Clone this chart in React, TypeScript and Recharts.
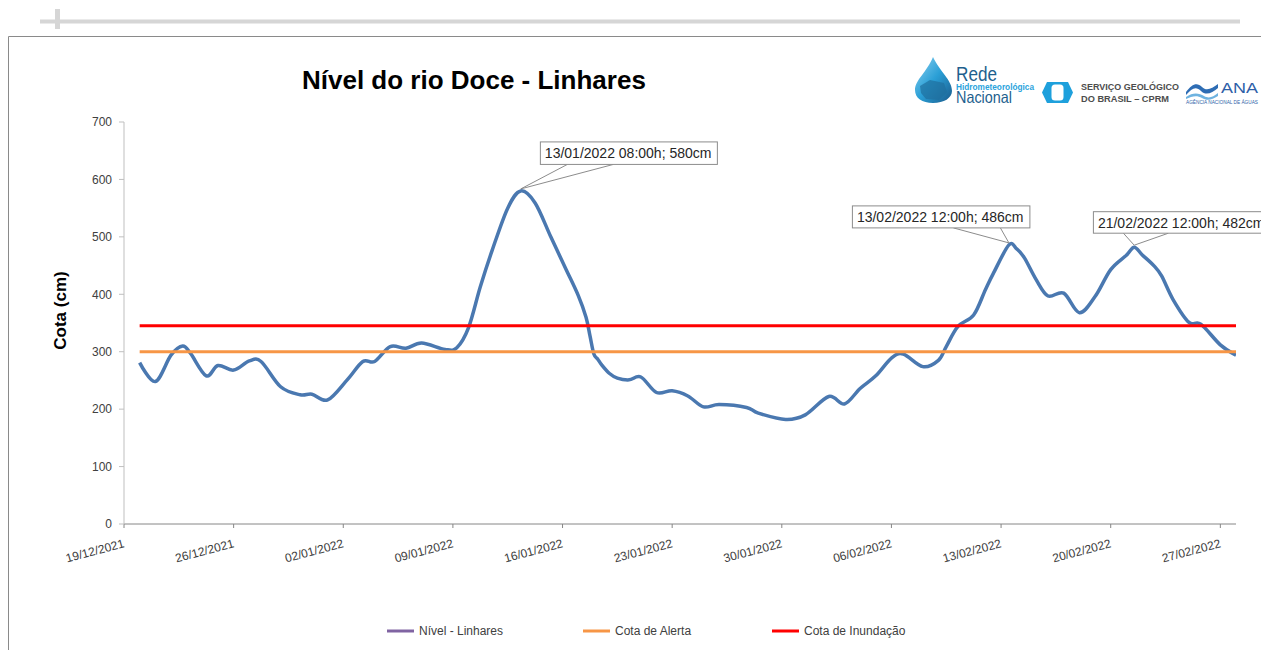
import React from 'react';
import { LineChart, Line, XAxis, YAxis, ReferenceDot } from 'recharts';

// ---------- DATA ----------
const readingTimes = [
  '20/12/2021 00:00', '21/12/2021 00:00', '22/12/2021 00:00', '22/12/2021 18:00', '23/12/2021 06:00',
  '24/12/2021 06:00', '25/12/2021 00:00', '26/12/2021 00:00', '27/12/2021 00:00', '27/12/2021 18:00',
  '29/12/2021 00:00', '30/12/2021 06:00', '31/12/2021 00:00', '01/01/2022 00:00', '02/01/2022 06:00',
  '03/01/2022 06:00', '04/01/2022 00:00', '05/01/2022 00:00', '06/01/2022 00:00', '07/01/2022 00:00',
  '08/01/2022 12:00', '09/01/2022 06:00', '10/01/2022 00:00', '10/01/2022 18:00', '11/01/2022 12:00',
  '12/01/2022 12:00', '13/01/2022 08:00', '14/01/2022 06:00', '15/01/2022 06:00', '16/01/2022 06:00',
  '17/01/2022 00:00', '17/01/2022 12:00', '17/01/2022 18:00', '18/01/2022 00:00', '18/01/2022 06:00',
  '18/01/2022 12:00', '19/01/2022 00:00', '19/01/2022 12:00', '20/01/2022 06:00', '21/01/2022 00:00',
  '22/01/2022 00:00', '23/01/2022 00:00', '24/01/2022 00:00', '25/01/2022 00:00', '26/01/2022 00:00',
  '27/01/2022 18:00', '28/01/2022 12:00', '30/01/2022 06:00', '31/01/2022 12:00', '02/02/2022 00:00',
  '03/02/2022 00:00', '04/02/2022 00:00', '05/02/2022 00:00', '06/02/2022 00:00', '06/02/2022 18:00',
  '08/02/2022 00:00', '09/02/2022 00:00', '09/02/2022 12:00', '10/02/2022 06:00', '11/02/2022 06:00',
  '12/02/2022 00:00', '12/02/2022 12:00', '13/02/2022 12:00', '14/02/2022 00:00', '14/02/2022 12:00',
  '15/02/2022 06:00', '16/02/2022 00:00', '17/02/2022 00:00', '18/02/2022 00:00', '19/02/2022 00:00',
  '20/02/2022 00:00', '21/02/2022 00:00', '21/02/2022 12:00', '22/02/2022 00:00', '22/02/2022 18:00',
  '23/02/2022 06:00', '24/02/2022 00:00', '25/02/2022 00:00', '25/02/2022 18:00', '27/02/2022 00:00',
  '28/02/2022 00:00',
];

const levels = [
  281, 248, 294, 310, 297,
  258, 276, 268, 284, 283,
  239, 225, 226, 216, 251,
  283, 283, 309, 306, 315,
  304, 307, 342, 413, 476,
  550, 580, 559, 500, 442,
  398, 360, 328, 296, 287,
  277, 262, 254, 251, 256,
  229, 232, 223, 204, 208,
  203, 193, 182, 190, 222,
  209, 236, 258, 289, 296,
  274, 285, 309, 344, 364,
  408, 436, 486, 479, 463,
  425, 397, 402, 368, 396,
  443, 468, 482, 469, 450,
  432, 390, 351, 348, 312,
  294,
];

const alertLevel = 300;
const floodLevel = 345;

const axisStart = '19/12/2021 00:00';
const axisEnd = '28/02/2022 00:00';
const tickDates = [
  '19/12/2021', '26/12/2021', '02/01/2022', '09/01/2022', '16/01/2022', '23/01/2022',
  '30/01/2022', '06/02/2022', '13/02/2022', '20/02/2022', '27/02/2022',
];
const yTicks = [0, 100, 200, 300, 400, 500, 600, 700];

const peakTimes = ['13/01/2022 08:00', '13/02/2022 12:00', '21/02/2022 12:00'];
const peakLabels = ['13/01/2022 08:00h; 580cm', '13/02/2022 12:00h; 486cm', '21/02/2022 12:00h; 482cm'];

const seriesNames = ['Nível - Linhares', 'Cota de Alerta', 'Cota de Inundação'];
const chartTitle = 'Nível do rio Doce - Linhares';
const yAxisTitle = 'Cota (cm)';

// ---------- STYLE ----------
const lineColors = { level: '#4A78B0', alert: '#F79646', flood: '#FF0000' };
const legendColors = ['#8064A2', '#F79646', '#FF0000'];
const FONT = '"Liberation Sans", Arial, sans-serif';
const calloutLayout = [
  { boxDx: 19.6, boxDy: -47, w: 177, h: 22.5, base: [46.6, 92.6] },
  { boxDx: -156.5, boxDy: -37, w: 177.5, h: 22, base: [-55.5, -8.5] },
  { boxDx: -40.8, boxDy: -33.5, w: 178, h: 21.5, base: [-10.8, 34.2] },
];

// ---------- helpers ----------
function parseTime(s: string): number {
  const [d, t = '00:00'] = s.split(' ');
  const [dd, mm, yy] = d.split('/').map(Number);
  const [hh, mi] = t.split(':').map(Number);
  return Date.UTC(yy, mm - 1, dd, hh, mi);
}
const pad = (n: number) => (n < 10 ? '0' + n : '' + n);
function formatDate(ms: number): string {
  const d = new Date(ms);
  return `${pad(d.getUTCDate())}/${pad(d.getUTCMonth() + 1)}/${d.getUTCFullYear()}`;
}

// Catmull-Rom style smoothing (like a spreadsheet "smoothed line")
function smoothCurve(context: any) {
  const k = 1 / 6;
  let x0 = NaN, y0 = NaN, x1 = NaN, y1 = NaN, x2 = NaN, y2 = NaN;
  let n = 0;
  const seg = (x: number, y: number) => {
    context.bezierCurveTo(
      x1 + k * (x2 - x0),
      y1 + k * (y2 - y0),
      x2 + k * (x1 - x),
      y2 + k * (y1 - y),
      x2,
      y2
    );
  };
  return {
    areaStart() {},
    areaEnd() {},
    lineStart() {
      x0 = x1 = x2 = y0 = y1 = y2 = NaN;
      n = 0;
    },
    lineEnd() {
      if (n === 2) context.lineTo(x2, y2);
      else if (n === 3) seg(x1, y1);
    },
    point(x: number, y: number) {
      x = +x;
      y = +y;
      if (n === 0) {
        n = 1;
        context.moveTo(x, y);
      } else if (n === 1) {
        n = 2;
        x1 = x;
        y1 = y;
      } else {
        n = 3;
        seg(x, y);
      }
      x0 = x1; x1 = x2; x2 = x;
      y0 = y1; y1 = y2; y2 = y;
    },
  };
}

const data = readingTimes.map((s, i) => ({
  t: parseTime(s),
  level: levels[i],
  alert: alertLevel,
  flood: floodLevel,
}));
const xTicks = tickDates.map((d) => parseTime(d));
const peaks = peakTimes.map((p, i) => ({
  t: parseTime(p),
  v: levels[readingTimes.indexOf(p)],
  label: peakLabels[i],
  layout: calloutLayout[i],
}));

const DateTick = (props: any) => {
  const { x, y, payload } = props;
  const ax = x + 1;
  const ay = y + 17;
  return (
    <text
      x={ax}
      y={ay}
      textAnchor="end"
      transform={`rotate(-15 ${ax} ${ay})`}
      fontFamily={FONT}
      fontSize={12}
      fill="#404040"
    >
      {formatDate(payload.value)}
    </text>
  );
};

const makeCallout = (label: string, lay: any) => (p: any) => {
  const tx = p.cx;
  const ty = p.cy - 2;
  const bx = tx + lay.boxDx;
  const by = ty + lay.boxDy;
  const bottom = by + lay.h;
  return (
    <g>
      <polyline
        points={`${tx + lay.base[0]},${bottom} ${tx},${ty} ${tx + lay.base[1]},${bottom}`}
        fill="#ffffff"
        stroke="#8C8C8C"
        strokeWidth={1}
      />
      <rect x={bx} y={by} width={lay.w} height={lay.h} fill="#ffffff" stroke="#8C8C8C" strokeWidth={1} />
      <text x={bx + 4.5} y={by + 16.2} fontFamily={FONT} fontSize={14} fill="#262626">
        {label}
      </text>
    </g>
  );
};

const Overlay = () => (
  <svg
    width={1261}
    height={650}
    style={{ position: 'absolute', left: 0, top: 0, pointerEvents: 'none' }}
  >
    <defs>
      <linearGradient id="dropGrad" x1="0" y1="0" x2="1" y2="1">
        <stop offset="0" stopColor="#8fd3f2" />
        <stop offset="0.5" stopColor="#2a9fd6" />
        <stop offset="1" stopColor="#1a5b8c" />
      </linearGradient>
    </defs>
    {/* top decoration */}
    <line x1={40} y1={21.5} x2={1240} y2={21.5} stroke="#D6D6D6" strokeWidth={4} />
    <line x1={57.5} y1={9} x2={57.5} y2={29} stroke="#D6D6D6" strokeWidth={5} />
    {/* frame */}
    <path d="M8.5 700 L8.5 36.5 L1300 36.5" fill="none" stroke="#8A8A8A" strokeWidth={1} />
    {/* title */}
    <text x={302} y={89} fontFamily={FONT} fontWeight="bold" fontSize={26} fill="#000000">
      {chartTitle}
    </text>
    {/* y axis title */}
    <text
      x={0}
      y={0}
      transform="translate(66 310.5) rotate(-90)"
      textAnchor="middle"
      fontFamily={FONT}
      fontWeight="bold"
      fontSize={17}
      fill="#000000"
    >
      {yAxisTitle}
    </text>
    {/* logos */}
    <path
      d="M933 57 C940 72 952 80 952 91 C952 98 944 103 933 103 C922 103 915 98 915 90 C915 80 927 72 933 57 Z"
      fill="url(#dropGrad)"
    />
    <path d="M920 86 L930 80 L944 83 L947 92 L939 100 L926 99 L921 93 Z" fill="#1f6f9e" opacity={0.7} />
    <text x={956} y={80.5} fontFamily={FONT} fontSize={20} fill="#1E5F8E" textLength={41} lengthAdjust="spacingAndGlyphs">
      Rede
    </text>
    <text x={956} y={89.5} fontFamily={FONT} fontWeight="bold" fontSize={8.5} fill="#2AA3DC" textLength={78} lengthAdjust="spacingAndGlyphs">
      Hidrometeorológica
    </text>
    <text x={956} y={103} fontFamily={FONT} fontSize={16.5} fill="#1E5F8E" textLength={56} lengthAdjust="spacingAndGlyphs">
      Nacional
    </text>
    <polygon points="1047,82 1068,82 1073,92.5 1068,103 1047,103 1042,92.5" fill="#1EA0DC" />
    <rect x={1051.5} y={84.5} width={12} height={16} rx={3.5} fill="#ffffff" />
    <text x={1081} y={90} fontFamily={FONT} fontWeight="bold" fontSize={8.5} fill="#4D4D4D" textLength={98} lengthAdjust="spacingAndGlyphs">
      SERVIÇO GEOLÓGICO
    </text>
    <text x={1081} y={101.5} fontFamily={FONT} fontWeight="bold" fontSize={8.5} fill="#4D4D4D" textLength={88} lengthAdjust="spacingAndGlyphs">
      DO BRASIL – CPRM
    </text>
    <path d="M1186 92 C1192 84 1197 82 1202 87 C1207 92 1212 88 1218 84 L1218 88 C1212 93 1206 96 1201 91 C1196 86 1192 88 1186 95 Z" fill="#2E6DB4" />
    <path d="M1186 97 C1193 92 1199 93 1204 96 C1209 99 1213 97 1218 93 L1218 96 C1212 100 1207 101 1202 98 C1197 95 1192 96 1186 99 Z" fill="#6FB3E0" />
    <text x={1221} y={93} fontFamily={FONT} fontSize={15} fill="#2E5FA8" textLength={37} lengthAdjust="spacingAndGlyphs">
      ANA
    </text>
    <text x={1186} y={103.5} fontFamily={FONT} fontSize={4.5} fill="#2E5FA8" textLength={72} lengthAdjust="spacingAndGlyphs">
      AGÊNCIA NACIONAL DE ÁGUAS
    </text>
    {/* legend */}
    {seriesNames.map((name, i) => {
      const sx = [387, 583, 772][i];
      return (
        <g key={name}>
          <line x1={sx} y1={631} x2={sx + 27} y2={631} stroke={legendColors[i]} strokeWidth={3} />
          <text x={sx + 32} y={635} fontFamily={FONT} fontSize={12} fill="#404040">
            {name}
          </text>
        </g>
      );
    })}
  </svg>
);

export default function App() {
  return (
    <div
      style={{
        position: 'absolute',
        left: 0,
        top: 0,
        width: 1261,
        height: 650,
        overflow: 'hidden',
        background: '#ffffff',
      }}
    >
      <Overlay />
      <div style={{ position: 'absolute', left: 0, top: 0 }}>
        <LineChart
          width={1261}
          height={650}
          data={data}
          margin={{ top: 122, right: 25, bottom: 96, left: 64 }}
        >
          <XAxis
            dataKey="t"
            type="number"
            domain={[parseTime(axisStart), parseTime(axisEnd)]}
            ticks={xTicks}
            tick={<DateTick />}
            tickSize={4}
            height={30}
            axisLine={{ stroke: '#868686' }}
            tickLine={{ stroke: '#868686' }}
            interval={0}
            allowDataOverflow
          />
          <YAxis
            domain={[0, 700]}
            ticks={yTicks}
            width={60}
            tickSize={5}
            tickMargin={7}
            axisLine={{ stroke: '#BFBFBF' }}
            tickLine={{ stroke: '#BFBFBF' }}
            tick={{ fontFamily: FONT, fontSize: 12, fill: '#404040' }}
            interval={0}
          />
          <Line
            type={smoothCurve as any}
            dataKey="level"
            name={seriesNames[0]}
            stroke={lineColors.level}
            strokeWidth={3.5}
            dot={false}
            activeDot={false}
            isAnimationActive={false}
          />
          <Line
            type="linear"
            dataKey="alert"
            name={seriesNames[1]}
            stroke={lineColors.alert}
            strokeWidth={3}
            dot={false}
            activeDot={false}
            isAnimationActive={false}
          />
          <Line
            type="linear"
            dataKey="flood"
            name={seriesNames[2]}
            stroke={lineColors.flood}
            strokeWidth={3}
            dot={false}
            activeDot={false}
            isAnimationActive={false}
          />
          {peaks.map((pk) => (
            <ReferenceDot
              key={pk.label}
              x={pk.t}
              y={pk.v}
              r={0}
              ifOverflow="visible"
              shape={makeCallout(pk.label, pk.layout)}
            />
          ))}
        </LineChart>
      </div>
    </div>
  );
}
